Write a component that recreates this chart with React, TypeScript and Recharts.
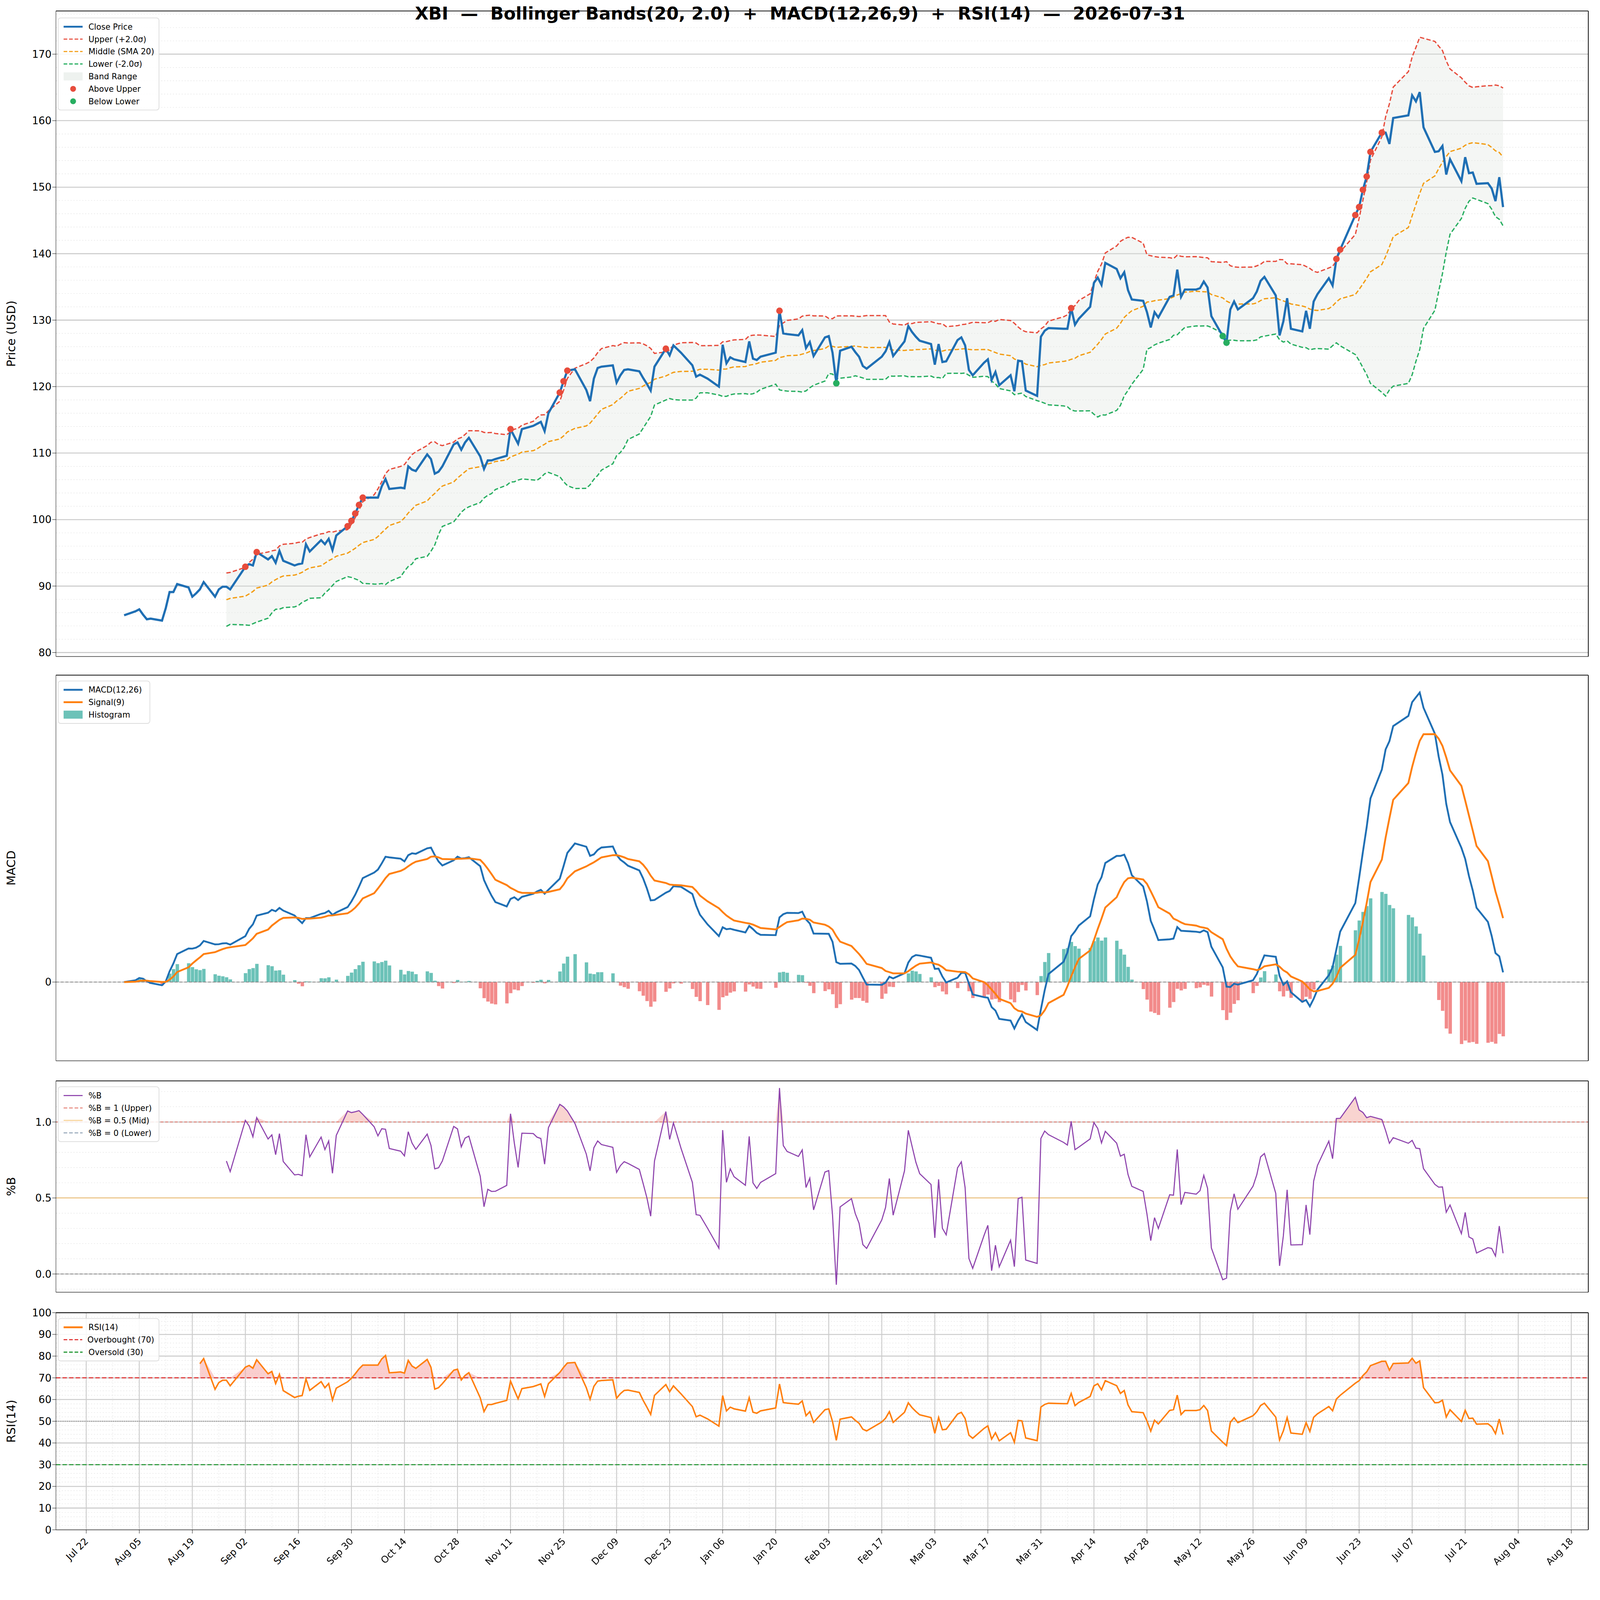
import React from 'react';
import {
  ComposedChart, Line, Area, Bar, Cell, Scatter, XAxis, YAxis, CartesianGrid, ReferenceLine, Label,
} from 'recharts';

// closes per trading week (Monday start, week of 2025-07-28 first; data begins Fri Aug 1)
const weeklyCloses = [
  [85.6],
  [86.2, 86.5, 85.7, 85.0, 85.1],
  [84.8, 86.7, 89.1, 89.1, 90.3],
  [89.8, 88.4, 88.9, 89.5, 90.6],
  [88.4, 89.5, 89.9, 89.9, 89.5],
  [92.9, 93.3, 93.1, 95.1],
  [94.0, 94.5, 93.5, 95.3, 93.8],
  [93.1, 93.3, 93.4, 96.3, 95.2],
  [96.9, 96.3, 97.1, 95.4, 97.6],
  [99.0, 99.8, 100.9, 102.2, 103.3],
  [103.3, 103.3, 105.0, 106.1, 104.6],
  [104.8, 104.7, 108.0, 107.5, 107.3],
  [109.8, 109.1, 106.9, 107.2, 108.0],
  [111.3, 111.6, 110.5, 111.6, 112.3],
  [109.5, 107.6, 108.9, 108.9, 109.1],
  [109.6, 113.6, 112.5, 111.4, 113.6],
  [114.1, 114.4, 114.7, 113.3, 116.0],
  [119.1, 120.8, 122.4, 122.6],
  [119.5, 117.8, 121.2, 122.8, 123.0],
  [123.2, 120.6, 121.7, 122.5, 122.6],
  [122.3, 121.3, 120.4, 119.4, 123.0],
  [125.7, 124.7, 126.2, 125.1],
  [123.2, 121.5, 121.8, 121.2],
  [120.0, 126.3, 123.5, 124.4, 124.1],
  [123.7, 126.8, 124.2, 124.0, 124.5],
  [125.1, 131.4, 128.0, 127.9],
  [127.7, 128.5, 125.8, 126.7, 124.6],
  [127.4, 127.6, 125.1, 120.5, 125.4],
  [126.0, 125.2, 124.5, 123.1, 122.7],
  [124.5, 125.3, 126.7, 124.6],
  [126.8, 129.1, 128.2, 127.5, 126.9],
  [126.4, 123.3, 126.4, 123.7, 123.8],
  [127.0, 127.4, 126.2, 122.5, 121.7],
  [123.6, 124.1, 121.0, 122.2, 120.2],
  [121.7, 119.3, 123.9, 123.8, 119.4],
  [118.6, 127.5, 128.4, 128.8],
  [128.7, 128.7, 131.8, 129.3, 130.2],
  [132.0, 135.6, 136.4, 135.3, 138.6],
  [137.7, 136.3, 137.2, 134.5, 133.1],
  [132.9, 131.2, 128.9, 131.2, 130.4],
  [133.5, 133.7, 137.6, 133.5, 134.6],
  [134.6, 134.8, 135.8, 134.9, 130.6],
  [127.6, 126.6, 131.6, 132.8, 131.6],
  [133.3, 134.3, 135.9, 136.5],
  [133.7, 127.7, 129.8, 133.3, 128.7],
  [128.3, 131.4, 128.7, 132.8, 133.9],
  [136.3, 135.2, 139.2, 140.6],
  [145.8, 147.0, 149.6, 151.6, 155.3],
  [158.2, 158.2, 156.5, 160.4],
  [160.8, 163.8, 162.9, 164.3, 159.0],
  [155.3, 155.4, 156.2, 151.9, 154.2],
  [150.9, 154.5, 152.1, 152.2, 150.5],
  [150.6, 149.8, 147.9, 151.5, 147.0],
];
const holidays = ['2025-09-01', '2025-11-27', '2025-12-25', '2026-01-01', '2026-01-19', '2026-02-16', '2026-04-03', '2026-05-25', '2026-06-19', '2026-07-03'];

const tickLabels = ['Jul 22', 'Aug 05', 'Aug 19', 'Sep 02', 'Sep 16', 'Sep 30', 'Oct 14', 'Oct 28', 'Nov 11', 'Nov 25', 'Dec 09', 'Dec 23', 'Jan 06', 'Jan 20', 'Feb 03', 'Feb 17', 'Mar 03', 'Mar 17', 'Mar 31', 'Apr 14', 'Apr 28', 'May 12', 'May 26', 'Jun 09', 'Jun 23', 'Jul 07', 'Jul 21', 'Aug 04', 'Aug 18'];
const priceTicks = [80, 90, 100, 110, 120, 130, 140, 150, 160, 170];
const pbTicks = [0, 0.5, 1];
const rsiTicks = [0, 10, 20, 30, 40, 50, 60, 70, 80, 90, 100];

const DAY = 86400000;
const firstMonday = Date.UTC(2025, 6, 28);
const dates: number[] = [];
const closes: number[] = [];
weeklyCloses.forEach((vals, k) => {
  const days: number[] = [];
  for (let d = 0; d < 5; d++) {
    const t = firstMonday + (k * 7 + d) * DAY;
    if (!holidays.includes(new Date(t).toISOString().slice(0, 10))) days.push(t);
  }
  const use = days.slice(days.length - vals.length);
  vals.forEach((v, i) => { dates.push(use[i]); closes.push(v); });
});

const tickValues = tickLabels.map((_, i) => Date.UTC(2025, 6, 22) + i * 14 * DAY);
const minorX: number[] = [];
for (let t = Date.UTC(2025, 6, 15); t < Date.UTC(2026, 7, 23); t += 7 * DAY) minorX.push(t);
const xDomain = [Date.UTC(2025, 6, 14), Date.UTC(2026, 7, 22, 12)];

// indicators
const ema = (src: number[], n: number) => {
  const a = 2 / (n + 1);
  const out: number[] = [];
  src.forEach((v, i) => out.push(i === 0 ? v : a * v + (1 - a) * out[i - 1]));
  return out;
};
const e12 = ema(closes, 12);
const e26 = ema(closes, 26);
const macd = closes.map((_, i) => e12[i] - e26[i]);
const signal = ema(macd, 9);
const macdMax = Math.max(...macd);
const macdDomain = [-macdMax * 77 / 283, macdMax * 300 / 283];

const rsi: (number | null)[] = closes.map(() => null);
{
  let ag = 0, al = 0;
  for (let i = 1; i < closes.length; i++) {
    const d = closes[i] - closes[i - 1];
    const g = Math.max(d, 0), l = Math.max(-d, 0);
    if (i === 1) { ag = g; al = l; } else { ag = ag + (g - ag) / 14; al = al + (l - al) / 14; }
    if (i >= 14) rsi[i] = al === 0 ? 100 : 100 - 100 / (1 + ag / al);
  }
}

const rows = closes.map((c, i) => {
  let mid = null, up = null, lo = null, pb = null;
  if (i >= 19) {
    const w = closes.slice(i - 19, i + 1);
    const m = w.reduce((s, v) => s + v, 0) / 20;
    const sd = Math.sqrt(w.reduce((s, v) => s + (v - m) ** 2, 0) / 19);
    mid = m; up = m + 2 * sd; lo = m - 2 * sd;
    pb = (c - lo) / (up - lo);
  }
  const r = rsi[i];
  return {
    t: dates[i], close: c, mid, up, lo, band: up === null ? null : [lo, up],
    pb, pbHi: pb === null ? null : [1, Math.max(pb, 1)],
    macd: macd[i], signal: signal[i], hist: macd[i] - signal[i],
    rsi: r, rsiHi: r === null ? null : [70, Math.max(r, 70)],
  };
});
const above = rows.filter(r => r.up !== null && r.close > (r.up as number)).map(r => ({ t: r.t, v: r.close }));
const below = rows.filter(r => r.lo !== null && r.close < (r.lo as number)).map(r => ({ t: r.t, v: r.close }));

const W = 4377;
const H = 4322;
const PAD = 20;
const margin = { top: PAD, right: 32, left: 40, bottom: PAD };
const tickFont = { fontSize: 28, fill: '#000' };
const fmt = (t: number) => tickLabels[tickValues.indexOf(t)] ?? '';

const RotTick = (props: any) => {
  const { x, y, payload } = props;
  return (
    <text x={x} y={y + 14} transform={`rotate(-45 ${x} ${y + 14})`} textAnchor="end" fontSize={26} dy={10}>
      {fmt(payload.value)}
    </text>
  );
};

const xAxis = (last: boolean) => (
  <XAxis dataKey="t" type="number" scale="time" domain={xDomain} ticks={tickValues} allowDataOverflow
    tick={last ? <RotTick /> : false} tickSize={10} height={last ? 120 : 1} stroke="#000" interval={0} />
);
const grids = (minorY: number[]) => [
  <CartesianGrid key="mi" horizontalValues={minorY} verticalValues={minorX} stroke="#e6e6e6" strokeDasharray="3 5" strokeWidth={1.5} />,
  <CartesianGrid key="ma" verticalValues={tickValues} stroke="#cccccc" strokeWidth={2.5} />,
];
const frame: React.CSSProperties = { position: 'absolute', left: 0 };

const Legend = ({ items, top, width }: { items: { label: string; kind: string; color: string }[]; top: number; width: number }) => (
  <div style={{ position: 'absolute', left: 158, top, width, background: 'rgba(255,255,255,0.85)', border: '2px solid #ddd', borderRadius: 8, padding: '6px 12px', fontFamily: 'DejaVu Sans', fontSize: 22, whiteSpace: 'nowrap' }}>
    {items.map(it => (
      <div key={it.label} style={{ display: 'flex', alignItems: 'center', height: 34 }}>
        <svg width={56} height={30} style={{ marginRight: 14 }}>
          {it.kind === 'line' && <line x1={2} x2={54} y1={15} y2={15} stroke={it.color} strokeWidth={5} />}
          {it.kind === 'thin' && <line x1={2} x2={54} y1={15} y2={15} stroke={it.color} strokeWidth={3} />}
          {it.kind === 'dash' && <line x1={2} x2={54} y1={15} y2={15} stroke={it.color} strokeWidth={3} strokeDasharray="10 5" />}
          {it.kind === 'box' && <rect x={2} y={4} width={52} height={22} fill={it.color} />}
          {it.kind === 'dot' && <circle cx={28} cy={15} r={8} fill={it.color} />}
        </svg>
        {it.label}
      </div>
    ))}
  </div>
);

const yLabel = (v: string) => <Label value={v} angle={-90} position="insideLeft" offset={-10} style={{ fontSize: 32, textAnchor: 'middle', fill: '#000' }} />;

export default function App() {
  const vw = typeof window !== 'undefined' ? window.innerWidth : W;
  const vh = typeof window !== 'undefined' ? window.innerHeight : H;
  const s = Math.min(1, vw / W, vh / H);
  const priceMinor: number[] = [];
  for (let v = 80; v <= 176; v += 2) priceMinor.push(v);
  const rsiMinor: number[] = [];
  for (let v = 0; v <= 100; v += 2) rsiMinor.push(v);
  const pbMinor: number[] = [];
  for (let v = -0.1; v <= 1.25; v += 0.1) pbMinor.push(+v.toFixed(2));
  return (
    <div style={{ position: 'fixed', left: 0, top: 0, width: W * s, height: H * s, overflow: 'hidden', background: '#fff' }}>
    <div style={{ position: 'relative', width: W, height: H, background: '#fff', fontFamily: 'DejaVu Sans', transform: `scale(${s})`, transformOrigin: '0 0' }}>
      <div style={{ position: 'absolute', top: 8, width: W, textAlign: 'center', fontSize: 48, fontWeight: 'bold', zIndex: 5, whiteSpace: 'pre' }}>
        {'XBI  —  Bollinger Bands(20, 2.0)  +  MACD(12,26,9)  +  RSI(14)  —  2026-07-31'}
      </div>

      <div style={{ ...frame, top: 30 - PAD }}>
        <ComposedChart width={W} height={1767 + 2 * PAD} data={rows} margin={margin}>
          {grids(priceMinor)}
          {xAxis(false)}
          <YAxis type="number" domain={[79.4, 176.5]} ticks={priceTicks} interval={0} allowDataOverflow tick={tickFont} tickSize={10} width={113} stroke="#000">
            {yLabel('Price (USD)')}
          </YAxis>
          <CartesianGrid horizontalValues={priceTicks} vertical={false} stroke="#cccccc" strokeWidth={2.5} />
          <Area dataKey="band" stroke="none" fill="#dfe6e0" fillOpacity={0.35} isAnimationActive={false} connectNulls={false} />
          <Line dataKey="up" stroke="#e74c3c" strokeWidth={3.5} strokeDasharray="12 6" dot={false} isAnimationActive={false} />
          <Line dataKey="mid" stroke="#f39c12" strokeWidth={3.5} strokeDasharray="12 6" dot={false} isAnimationActive={false} />
          <Line dataKey="lo" stroke="#27ae60" strokeWidth={3.5} strokeDasharray="12 6" dot={false} isAnimationActive={false} />
          <Line dataKey="close" stroke="#1f6fb4" strokeWidth={6} dot={false} isAnimationActive={false} />
          <Scatter data={above} dataKey="v" fill="#e74c3c" shape={(p: any) => <circle cx={p.cx} cy={p.cy} r={9} fill="#e74c3c" />} isAnimationActive={false} />
          <Scatter data={below} dataKey="v" fill="#27ae60" shape={(p: any) => <circle cx={p.cx} cy={p.cy} r={9} fill="#27ae60" />} isAnimationActive={false} />
          <ReferenceLine y={176.5} stroke="#000" strokeWidth={2} />
          <ReferenceLine x={xDomain[1]} stroke="#000" strokeWidth={2} />
        </ComposedChart>
      </div>
      <Legend top={48} width={250} items={[
        { label: 'Close Price', kind: 'line', color: '#1f6fb4' },
        { label: 'Upper (+2.0σ)', kind: 'dash', color: '#e74c3c' },
        { label: 'Middle (SMA 20)', kind: 'dash', color: '#f39c12' },
        { label: 'Lower (-2.0σ)', kind: 'dash', color: '#27ae60' },
        { label: 'Band Range', kind: 'box', color: '#eef2ef' },
        { label: 'Above Upper', kind: 'dot', color: '#e74c3c' },
        { label: 'Below Lower', kind: 'dot', color: '#27ae60' },
      ]} />

      <div style={{ ...frame, top: 1847 - PAD }}>
        <ComposedChart width={W} height={1056 + 2 * PAD} data={rows} margin={margin}>
          {grids([])}
          {xAxis(false)}
          <YAxis type="number" domain={macdDomain} ticks={[0]} interval={0} allowDataOverflow tick={tickFont} tickSize={10} width={113} stroke="#000">
            {yLabel('MACD')}
          </YAxis>
          <Bar dataKey="hist" barSize={12} isAnimationActive={false}>
            {rows.map((r, i) => <Cell key={i} fill={r.hist >= 0 ? '#6cc2b8' : '#f28b8b'} />)}
          </Bar>
          <ReferenceLine y={0} stroke="#888" strokeDasharray="8 5" strokeWidth={2} />
          <Line dataKey="macd" stroke="#1f6fb4" strokeWidth={5} dot={false} isAnimationActive={false} />
          <Line dataKey="signal" stroke="#ff7f0e" strokeWidth={5} dot={false} isAnimationActive={false} />
          <ReferenceLine y={macdDomain[1]} stroke="#000" strokeWidth={2} />
          <ReferenceLine x={xDomain[1]} stroke="#000" strokeWidth={2} />
        </ComposedChart>
      </div>
      <Legend top={1862} width={225} items={[
        { label: 'MACD(12,26)', kind: 'line', color: '#1f6fb4' },
        { label: 'Signal(9)', kind: 'line', color: '#ff7f0e' },
        { label: 'Histogram', kind: 'box', color: '#6cc2b8' },
      ]} />

      <div style={{ ...frame, top: 2957 - PAD }}>
        <ComposedChart width={W} height={579 + 2 * PAD} data={rows} margin={margin}>
          {grids(pbMinor)}
          {xAxis(false)}
          <YAxis type="number" domain={[-0.12, 1.27]} ticks={pbTicks} interval={0} allowDataOverflow tick={tickFont} tickSize={10} width={113} stroke="#000" tickFormatter={(v: number) => v.toFixed(1)}>
            {yLabel('%B')}
          </YAxis>
          <CartesianGrid horizontalValues={pbTicks} vertical={false} stroke="#cccccc" strokeWidth={2.5} />
          <Area dataKey="pbHi" stroke="none" fill="#f5b7b1" fillOpacity={0.6} isAnimationActive={false} />
          <ReferenceLine y={1} stroke="#e74c3c" strokeDasharray="8 5" strokeWidth={2} strokeOpacity={0.7} />
          <ReferenceLine y={0.5} stroke="#f8c471" strokeWidth={2} />
          <ReferenceLine y={0} stroke="#888" strokeDasharray="8 5" strokeWidth={2} />
          <Line dataKey="pb" stroke="#8e44ad" strokeWidth={3} dot={false} isAnimationActive={false} />
          <ReferenceLine y={1.27} stroke="#000" strokeWidth={2} />
          <ReferenceLine x={xDomain[1]} stroke="#000" strokeWidth={2} />
        </ComposedChart>
      </div>
      <Legend top={2972} width={250} items={[
        { label: '%B', kind: 'thin', color: '#8e44ad' },
        { label: '%B = 1 (Upper)', kind: 'dash', color: '#e88e84' },
        { label: '%B = 0.5 (Mid)', kind: 'thin', color: '#f8d6a0' },
        { label: '%B = 0 (Lower)', kind: 'dash', color: '#9ab' },
      ]} />

      <div style={{ ...frame, top: 3591 - PAD }}>
        <ComposedChart width={W} height={714 + 2 * PAD} data={rows} margin={margin}>
          {grids(rsiMinor)}
          {xAxis(true)}
          <YAxis type="number" domain={[0, 100]} ticks={rsiTicks} interval={0} tick={tickFont} tickSize={10} width={113} stroke="#000">
            {yLabel('RSI(14)')}
          </YAxis>
          <CartesianGrid horizontalValues={rsiTicks} vertical={false} stroke="#cccccc" strokeWidth={2.5} />
          <Area dataKey="rsiHi" stroke="none" fill="#f5a5a5" fillOpacity={0.55} isAnimationActive={false} />
          <ReferenceLine y={70} stroke="#e03030" strokeDasharray="12 6" strokeWidth={3} />
          <ReferenceLine y={30} stroke="#2a9a3a" strokeDasharray="12 6" strokeWidth={3} />
          <ReferenceLine y={50} stroke="#888" strokeDasharray="3 3" strokeWidth={2} />
          <Line dataKey="rsi" stroke="#ff7f0e" strokeWidth={4} dot={false} isAnimationActive={false} />
          <ReferenceLine y={100} stroke="#000" strokeWidth={2} />
          <ReferenceLine x={xDomain[1]} stroke="#000" strokeWidth={2} />
        </ComposedChart>
      </div>
      <Legend top={3606} width={250} items={[
        { label: 'RSI(14)', kind: 'line', color: '#ff7f0e' },
        { label: 'Overbought (70)', kind: 'dash', color: '#e03030' },
        { label: 'Oversold (30)', kind: 'dash', color: '#2a9a3a' },
      ]} />
    </div>
    </div>
  );
}
